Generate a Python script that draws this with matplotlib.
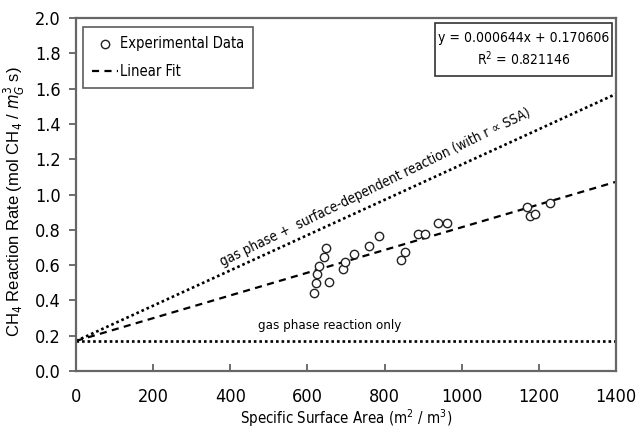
import numpy as np
import matplotlib.pyplot as plt
from matplotlib import font_manager
from matplotlib.patches import Rectangle

# ─── data ───
ssa = [618, 623, 625, 631, 643, 648, 657, 691, 698, 721, 760, 785,
       843, 854, 886, 906, 939, 961, 1169, 1177, 1191, 1230]
rate = [0.441, 0.498, 0.547, 0.594, 0.644, 0.695, 0.507, 0.577, 0.619, 0.665,
        0.707, 0.767, 0.629, 0.674, 0.779, 0.779, 0.836, 0.840, 0.931, 0.877,
        0.889, 0.950]

fit_slope = 0.000644
fit_icpt = 0.170606
fit_r2 = 0.821146

gas_only = 0.17          # gas phase reaction only
surf_slope = 0.001       # gas phase + surface-dependent reaction

x_line = [0, 1400]

# condensed face if the DejaVu install has one
has_cond = any(f.name == 'DejaVu Sans' and str(f.stretch) in ('condensed', '400', 'semi-condensed')
               for f in font_manager.fontManager.ttflist)
plt.rcParams['font.family'] = ['DejaVu Sans']
if has_cond:
    plt.rcParams['font.stretch'] = 'condensed'
plt.rcParams['mathtext.fontset'] = 'dejavusans'

fig = plt.figure(figsize=(6.36, 4.33), dpi=100)
ax = fig.add_axes([0.1195, 0.1432, 0.849, 0.815])

ax.plot(x_line, [fit_icpt + fit_slope * x for x in x_line], color='black',
        ls=(0, (3.2, 2.4)), lw=1.6, label='Linear Fit', zorder=2)
ax.plot(x_line, [gas_only + surf_slope * x for x in x_line], color='black',
        ls=(0, (1, 1.1)), lw=1.9, zorder=2)
ax.plot(x_line, [gas_only, gas_only], color='black',
        ls=(0, (1, 1.1)), lw=1.9, zorder=2)
ax.scatter(ssa, rate, s=36, facecolors='white', edgecolors='#222222',
           linewidths=1.0, label='Experimental Data', zorder=3)

ax.text(775, 1.04, 'gas phase +  surface-dependent reaction (with r \u221d SSA)',
        rotation=26, ha='center', va='center', fontsize=9.8)
ax.text(658, 0.26, 'gas phase reaction only', ha='center', va='center',
        fontsize=9.5)

# equation box
ax.add_patch(Rectangle((931, 1.67), 459, 0.30, fill=True, fc='white',
                       ec='#333333', lw=1.2, zorder=4))
ax.text(1160, 1.82, f'y = {fit_slope:.6f}x + {fit_icpt:.6f}\nR$^2$ = {fit_r2:.6f}',
        ha='center', va='center', fontsize=10, linespacing=1.3, zorder=5)

h, l = ax.get_legend_handles_labels()
leg = ax.legend(h[::-1], l[::-1], loc='upper left', fontsize=10.5, frameon=True,
                fancybox=False, edgecolor='#333333', handlelength=1.8,
                handletextpad=0.15, borderpad=0.6, labelspacing=0.9,
                borderaxespad=0, bbox_to_anchor=(0.013, 0.975))
leg.get_frame().set_linewidth(1.2)

ax.set_xlim(0, 1400)
ax.set_ylim(0, 2.0)
ax.set_xticks(np.arange(0, 1401, 200))
ax.set_yticks(np.arange(0, 2.01, 0.2))
ax.set_yticklabels([f'{v:.1f}' for v in np.arange(0, 2.01, 0.2)])
ax.tick_params(axis='y', direction='out', length=5, width=1.2, color='#555555',
               labelsize=13, pad=6)
ax.tick_params(axis='x', direction='in', length=5, width=1.2, color='#555555',
               labelsize=13, pad=12)
for s in ax.spines.values():
    s.set_color('#666666')
    s.set_linewidth(1.6)

ax.set_xlabel('Specific Surface Area (m$^2$ / m$^3$)', fontsize=10.8, labelpad=1)
ax.set_ylabel('CH$_4$ Reaction Rate (mol CH$_4$ / $m_G^3$ s)', fontsize=12,
              family='Liberation Sans', stretch='normal')
ax.yaxis.set_label_coords(-0.09, 0.48)

fig.savefig('out.png', dpi=100)
